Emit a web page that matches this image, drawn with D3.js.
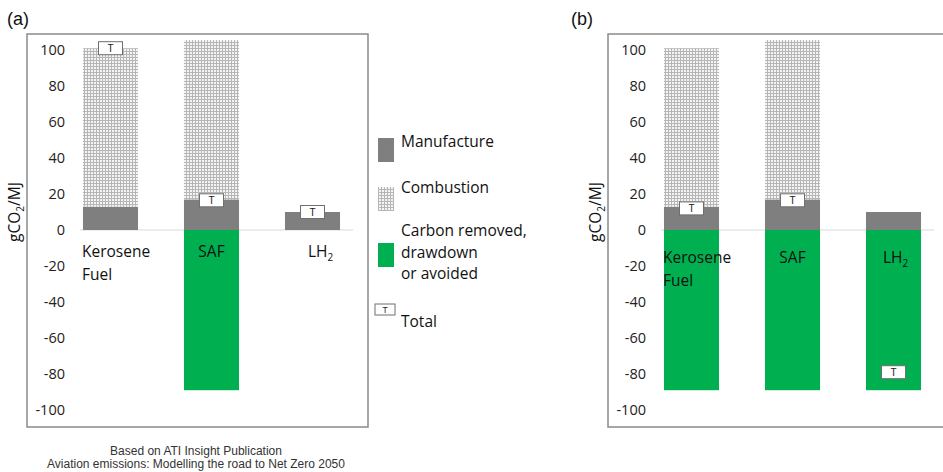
<!DOCTYPE html>
<html>
<head>
<meta charset="utf-8">
<script src="https://cdn.jsdelivr.net/npm/d3@7"></script>
<style>
  html, body { margin: 0; padding: 0; background: #fff; }
  svg { display: block; }
</style>
</head>
<body>
<svg id="chart" width="943" height="472"></svg>
<script>
// ---- data ----
const categories = ["Kerosene Fuel", "SAF", "LH2"];
const manufactureA = [13, 17, 10];
const combustionA = [88, 88.5, 0];
const removedA = [0, -89, 0];
const manufactureB = [13, 17, 10];
const combustionB = [88, 88.5, 0];
const removedB = [-89, -89, -89];
const yTicks = [-100, -80, -60, -40, -20, 0, 20, 40, 60, 80, 100];
const legendItems = ["Manufacture", "Combustion", "Carbon removed,|drawdown|or avoided", "Total"];
const panelLabels = ["(a)", "(b)"];
const footer = ["Based on ATI Insight Publication", "Aviation emissions: Modelling the road to Net Zero 2050"];

// ---- styles ----
const COL_MAN = "#7f7f7f";
const COL_GREEN = "#00b050";
const FRAME = "#8a8a8a";
const FONT = "'Open Sans', 'Noto Sans', sans-serif";

const svg = d3.select("#chart");
const defs = svg.append("defs");
const pat = defs.append("pattern").attr("id", "comb").attr("patternUnits", "userSpaceOnUse")
  .attr("width", 3).attr("height", 3);
pat.append("rect").attr("width", 3).attr("height", 3).attr("fill", "#f4f4f4");
pat.append("rect").attr("width", 3).attr("height", 1).attr("fill", "#b6b6b6");
pat.append("rect").attr("width", 1).attr("height", 3).attr("fill", "#b6b6b6");

const y = d3.scaleLinear().domain([-100, 100]).range([410, 50]);

function drawPanel(dx, frameW, man, comb, rem, labelY, lhOffset, label) {
  const g = svg.append("g").attr("transform", `translate(${dx},0)`);
  // frame
  g.append("rect").attr("x", 27).attr("y", 34).attr("width", frameW).attr("height", 393)
    .attr("fill", "none").attr("stroke", FRAME).attr("stroke-width", 1.5);
  // panel label
  svg.append("text").attr("x", dx + (dx ? -10 : 7)).attr("y", 25)
    .attr("font-family", "'Liberation Sans', Arial, sans-serif").attr("font-size", 18)
    .attr("fill", "#111").text(label);

  const x = d3.scaleBand().domain(categories).range([60, 363])
    .paddingInner(0.455).paddingOuter(0.2275);

  // zero line
  g.append("line").attr("x1", 80).attr("x2", 353).attr("y1", y(0)).attr("y2", y(0))
    .attr("stroke", "#d9d9d9").attr("stroke-width", 1);

  // y axis (tick labels only)
  const ax = g.append("g").attr("transform", "translate(66,0)")
    .call(d3.axisLeft(y).tickValues(yTicks).tickSize(0).tickPadding(1).tickFormat(d => d < 0 ? "-" + Math.abs(d) : d));
  ax.select(".domain").remove();
  ax.selectAll("text").attr("font-family", FONT).attr("font-size", 14.5).attr("fill", "#222");

  // y title
  const yt = g.append("text").attr("transform", "translate(20,212) rotate(-90)")
    .attr("text-anchor", "middle").attr("font-family", FONT).attr("font-size", 15.5).attr("fill", "#111");
  yt.append("tspan").text("gCO");
  yt.append("tspan").attr("font-size", 10).attr("dy", 4).text("2");
  yt.append("tspan").attr("dy", -4).text("/MJ");

  const rows = categories.map((c, i) => ({
    c, m: man[i], cb: comb[i], r: rem[i], total: man[i] + comb[i] + rem[i]
  }));

  // removed (green)
  g.selectAll(".rem").data(rows.filter(d => d.r !== 0)).join("rect")
    .attr("x", d => x(d.c)).attr("width", x.bandwidth())
    .attr("y", d => y(0)).attr("height", d => y(d.r) - y(0)).attr("fill", COL_GREEN);
  // manufacture
  g.selectAll(".man").data(rows).join("rect")
    .attr("x", d => x(d.c)).attr("width", x.bandwidth())
    .attr("y", d => y(d.m)).attr("height", d => y(0) - y(d.m)).attr("fill", COL_MAN);
  // combustion
  g.selectAll(".comb").data(rows.filter(d => d.cb !== 0)).join("rect")
    .attr("x", d => x(d.c)).attr("width", x.bandwidth())
    .attr("y", d => y(d.m + d.cb)).attr("height", d => y(d.m) - y(d.m + d.cb)).attr("fill", "url(#comb)");

  // category labels
  rows.forEach((d, i) => {
    const cx = x(d.c) + x.bandwidth() / 2;
    if (i === 0) {
      const parts = d.c.split(" ");
      parts.forEach((p, k) => {
        g.append("text").attr("x", x(d.c) - 1).attr("y", labelY + k * 23)
          .attr("font-family", FONT).attr("font-size", 15.5).attr("fill", "#111").text(p);
      });
    } else if (d.c === "LH2") {
      const t = g.append("text").attr("x", cx + lhOffset).attr("y", labelY).attr("text-anchor", "middle")
        .attr("font-family", FONT).attr("font-size", 15.5).attr("fill", "#111");
      t.append("tspan").text("LH");
      t.append("tspan").attr("font-size", 10).attr("dy", 4).text("2");
    } else {
      g.append("text").attr("x", cx).attr("y", labelY).attr("text-anchor", "middle")
        .attr("font-family", FONT).attr("font-size", 15.5).attr("fill", "#111").text(d.c);
    }
  });

  // total markers
  const tg = g.selectAll(".tot").data(rows).join("g")
    .attr("transform", d => `translate(${x(d.c) + x.bandwidth() / 2},${y(d.total)})`);
  tg.append("rect").attr("x", -12).attr("y", -6.5).attr("width", 24).attr("height", 13)
    .attr("fill", "#fff").attr("stroke", "#6f6f6f").attr("stroke-width", 1);
  tg.append("text").attr("y", 4).attr("text-anchor", "middle")
    .attr("font-family", "'Liberation Sans', Arial, sans-serif").attr("font-size", 10).attr("fill", "#222").text("T");
  return g;
}

drawPanel(0, 341, manufactureA, combustionA, removedA, 257, 8, panelLabels[0]);
drawPanel(581, 345, manufactureB, combustionB, removedB, 263, 2, panelLabels[1]);

// legend
const lg = svg.append("g");
const swatchFills = [COL_MAN, "url(#comb)", COL_GREEN];
const swatchY = [138, 187, 243];
const textY = [147, 193, 236];
legendItems.forEach((t, i) => {
  if (i < 3) {
    lg.append("rect").attr("x", 378).attr("y", swatchY[i]).attr("width", 16).attr("height", 24)
      .attr("fill", swatchFills[i]);
  } else {
    lg.append("rect").attr("x", 375).attr("y", 304).attr("width", 20).attr("height", 11)
      .attr("fill", "#fff").attr("stroke", "#6f6f6f").attr("stroke-width", 1);
    lg.append("text").attr("x", 385).attr("y", 313).attr("text-anchor", "middle")
      .attr("font-family", "'Liberation Sans', Arial, sans-serif").attr("font-size", 8.5).attr("fill", "#222").text("T");
  }
  const lines = t.split("|");
  lines.forEach((ln, k) => {
    lg.append("text").attr("x", 401).attr("y", (i < 3 ? textY[i] : 327) + k * 21.5)
      .attr("font-family", FONT).attr("font-size", 15.5).attr("fill", "#111").text(ln);
  });
});

// footer
footer.forEach((t, i) => {
  svg.append("text").attr("x", 196).attr("y", 455 + i * 12.5).attr("text-anchor", "middle")
    .attr("font-family", "'Liberation Sans', Arial, sans-serif").attr("font-size", 12)
    .attr("fill", "#333").text(t);
});
</script>
</body>
</html>
